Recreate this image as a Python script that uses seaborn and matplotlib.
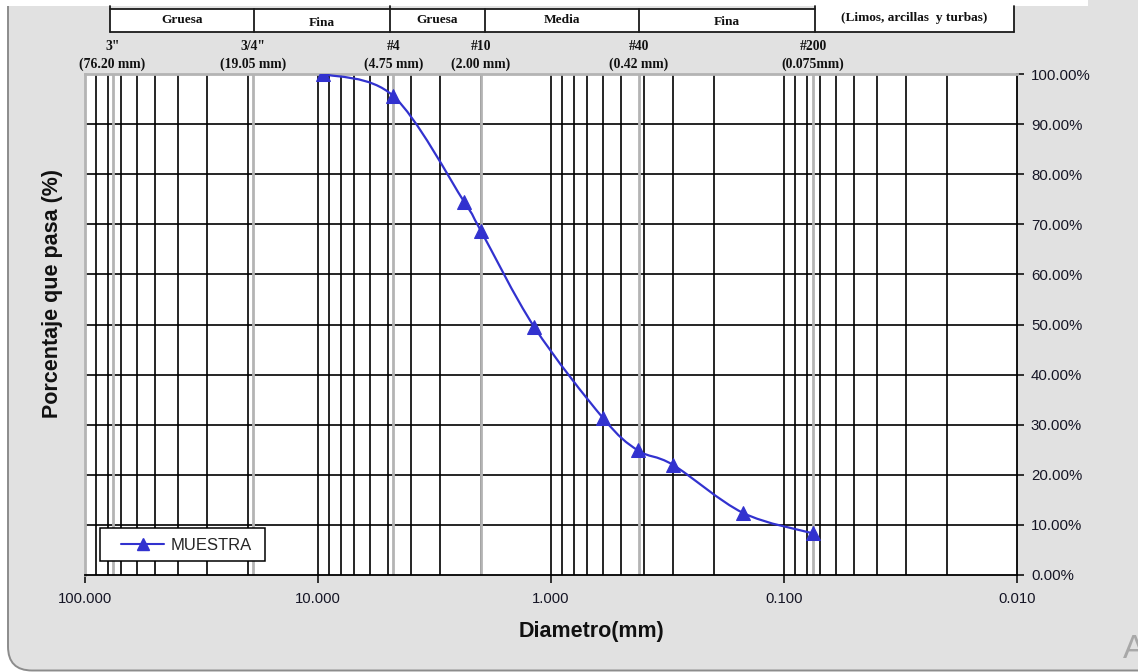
import numpy as np
import pandas as pd
import matplotlib
matplotlib.use("Agg")
import matplotlib.pyplot as plt
import seaborn as sns
from matplotlib.lines import Line2D
from matplotlib.patches import FancyBboxPatch, Rectangle, PathPatch
from matplotlib.path import Path
from matplotlib import transforms as mtransforms
from matplotlib.ticker import NullLocator

# ---- data: granulometric curve ----
diametro_mm = [9.5, 4.75, 2.36, 2.00, 1.18, 0.60, 0.425, 0.30, 0.15, 0.075]
porcentaje_pasa = [100.0, 95.6, 74.5, 68.7, 49.5, 31.4, 24.9, 22.0, 12.4, 8.3]
serie = "MUESTRA"

x_ticks = [100, 10, 1, 0.1, 0.01]
x_tick_labels = ["100.000", "10.000", "1.000", "0.100", "0.010"]
y_ticks = [0, 10, 20, 30, 40, 50, 60, 70, 80, 90, 100]
y_tick_labels = ["0.00%", "10.00%", "20.00%", "30.00%", "40.00%", "50.00%",
                 "60.00%", "70.00%", "80.00%", "90.00%", "100.00%"]

tamices_mm = [76.2, 19.05, 4.75, 2.00, 0.42, 0.075]
tamiz_nombres = ['3"', '3/4"', '#4', '#10', '#40', '#200']
tamiz_etiquetas = ['(76.20 mm)', '(19.05 mm)', '(4.75 mm)', '(2.00 mm)',
                   '(0.42 mm)', '(0.075mm)']

clases = ["Gruesa", "Fina", "Gruesa", "Media", "Fina",
          "(Limos, arcillas  y turbas)"]

# ---- style ----
sns.set_style("white")
plt.rcParams["font.family"] = ["Liberation Sans", "DejaVu Sans"]

W, H = 1138, 672
BLUE = "#3232CF"
GRID_GREY = "#b4b4b4"

fig = plt.figure(figsize=(W / 100, H / 100), dpi=100)
fig.patch.set_facecolor("white")
px = mtransforms.IdentityTransform()


def Y(y):
    """image row -> display y"""
    return H - y


# outer rounded panel
frame = FancyBboxPatch((8, Y(670.5)), 1180, 720,
                       boxstyle="round,pad=0,rounding_size=24",
                       fc="#e1e1e1", ec="#8c8c8c", lw=1.4,
                       transform=px, zorder=-5)
fig.add_artist(frame)
fig.add_artist(Rectangle((0, Y(5.5)), 1088, 6, fc="white", ec="none",
                         transform=px, zorder=-4))

# classification header table
bounds = [110, 254, 390, 484.5, 639, 815, 1014]
row_top, row_bot, band = 9.3, 32.3, 5.5
fig.add_artist(Rectangle((bounds[0], Y(row_bot)), bounds[5] - bounds[0],
                         row_bot - row_top, fc="white", ec="none",
                         transform=px, zorder=-3))
fig.add_artist(Rectangle((bounds[5], Y(row_bot)), bounds[6] - bounds[5],
                         row_bot - band, fc="white", ec="none",
                         transform=px, zorder=-3))
lk = dict(color="#1a1a1a", lw=1.3, transform=px, zorder=-2)
fig.add_artist(Line2D([bounds[0], bounds[5]], [Y(row_top)] * 2, **lk))
fig.add_artist(Line2D([bounds[0], bounds[6]], [Y(row_bot)] * 2, **lk))
for i, bx in enumerate(bounds):
    top = band if i in (0, 2, 5, 6) else row_top
    fig.add_artist(Line2D([bx, bx], [Y(top), Y(row_bot)], **lk))
clase_y = [20, 22.5, 20, 20, 22, 17.5]
for i, txt in enumerate(clases):
    cx = (bounds[i] + bounds[i + 1]) / 2
    fig.text(cx, Y(clase_y[i]), txt, transform=px, ha="center", va="center",
             fontsize=9.6, fontweight="bold", family="Liberation Serif",
             color="#111111")

# ---- axes ----
ax = fig.add_axes([85 / W, (H - 575) / H, 932 / W, 501 / H])
ax.set_facecolor("white")
ax.set_xscale("log")
ax.set_xlim(100, 0.01)
ax.set_ylim(0, 100)

# log grid: black minor/decade lines, grey sieve lines
for dec in [10.0, 1.0, 0.1, 0.01]:
    for m in range(1, 10):
        v = dec * m
        if v >= 100 or v <= 0.01:
            continue
        ax.axvline(v, color="black", lw=1.2, zorder=1)
for v in y_ticks[1:-1]:
    ax.axhline(v, color="black", lw=1.2, zorder=1)
for v in tamices_mm:
    ax.axvline(v, color=GRID_GREY, lw=2.0, zorder=2)

# data markers
df = pd.DataFrame({"diametro": diametro_mm, "pasa": porcentaje_pasa})
sns.lineplot(data=df, x="diametro", y="pasa", ax=ax, sort=False,
             marker="^", markersize=10, linestyle="", color=BLUE,
             markeredgecolor=BLUE, legend=False, zorder=5)

# smoothed connecting line (cubic Bezier through the points)
P = ax.transData.transform(np.column_stack([diametro_mm, porcentaje_pasa]))
n = len(P)
verts = [P[0]]
codes = [Path.MOVETO]
for i in range(n - 1):
    p0 = P[i - 1] if i > 0 else P[i]
    p1, p2 = P[i], P[i + 1]
    p3 = P[i + 2] if i + 2 < n else P[i + 1]
    verts += [p1 + (p2 - p0) / 6.0, p2 - (p3 - p1) / 6.0, p2]
    codes += [Path.CURVE4] * 3
verts = ax.transData.inverted().transform(np.array(verts))
ax.add_patch(PathPatch(Path(verts, codes), fill=False, ec=BLUE, lw=1.6,
                       zorder=4))
ax.set_xlim(100, 0.01)
ax.set_ylim(0, 100)

# axes, ticks, spines
ax.set_xticks(x_ticks)
ax.set_xticklabels(x_tick_labels)
ax.xaxis.set_minor_locator(NullLocator())
ax.yaxis.tick_right()
ax.set_yticks(y_ticks)
ax.set_yticklabels(y_tick_labels)
ax.tick_params(axis="x", direction="out", length=6, width=1.1, color="black",
               pad=6, labelsize=10.7, labelcolor="#151525", bottom=True)
ax.tick_params(axis="y", direction="out", length=5, width=1.1, color="black",
               pad=5, labelsize=10.8, labelcolor="#151525", right=True,
               left=False)
ax.set_xlabel("")
ax.set_ylabel("")
for side in ["top", "left"]:
    ax.spines[side].set_color(GRID_GREY)
    ax.spines[side].set_linewidth(2.0)
for side in ["bottom", "right"]:
    ax.spines[side].set_color("black")
    ax.spines[side].set_linewidth(1.3)

# sieve labels above the plot
lbl_tf = mtransforms.blended_transform_factory(ax.transData, px)
for v, nombre, etq in zip(tamices_mm, tamiz_nombres, tamiz_etiquetas):
    ax.text(v, Y(46.5), nombre, transform=lbl_tf, ha="center", va="center",
            fontsize=9.8, fontweight="bold", family="Liberation Serif",
            color="#111111", clip_on=False)
    ax.text(v, Y(64.5), etq, transform=lbl_tf, ha="center", va="center",
            fontsize=9.8, fontweight="bold", family="Liberation Serif",
            color="#111111", clip_on=False)

# legend
ax.add_patch(Rectangle((100, Y(561)), 165, 33, fc="white", ec="black",
                       lw=1.1, transform=px, zorder=6, clip_on=False))
handle = Line2D([], [], color=BLUE, lw=1.5, marker="^", markersize=9,
                markeredgecolor=BLUE)
leg = ax.legend([handle], [serie], loc="center left",
                bbox_to_anchor=(121, Y(545)), bbox_transform=px,
                frameon=False, borderaxespad=0, borderpad=0,
                handlelength=2.6, handletextpad=0.35,
                prop={"size": 12, "family": "Liberation Sans"})
leg.set_zorder(7)

# axis titles
fig.text(52.5, Y(294), "Porcentaje que pasa (%)", transform=px, rotation=90,
         ha="center", va="center", fontsize=15.5, fontweight="bold",
         color="#111111")
fig.text(591, Y(632), "Diametro(mm)", transform=px, ha="center",
         va="center", fontsize=15.5, fontweight="bold", color="#111111")

# corner mark
fig.text(1123, Y(658), "A", transform=px, ha="left", va="baseline",
         fontsize=24, color="#a8a8a8", fontweight="light")

fig.savefig("out.png", dpi=100, facecolor=fig.get_facecolor())
